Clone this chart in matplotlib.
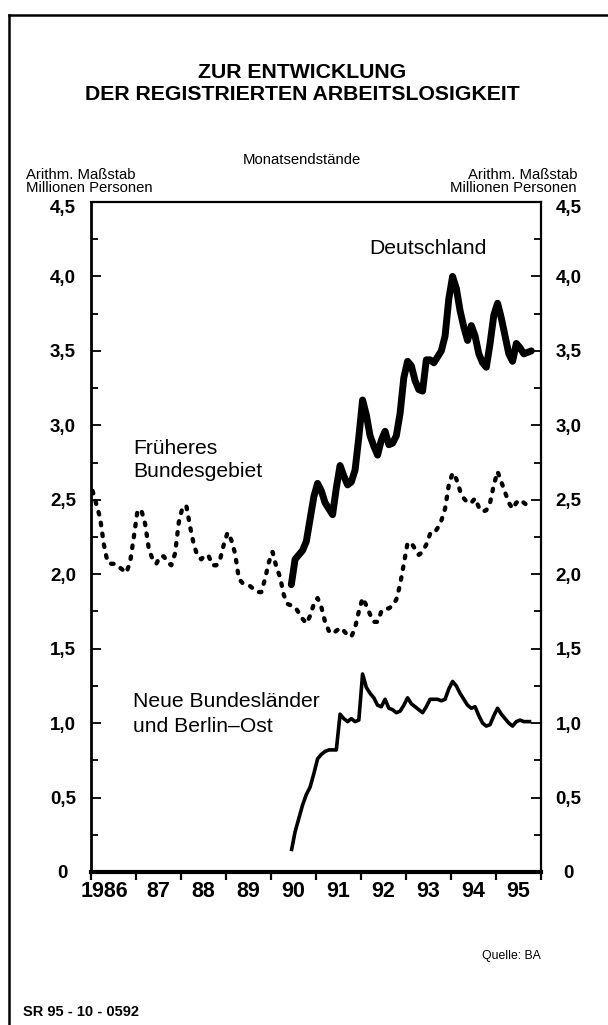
import numpy as np
import matplotlib
matplotlib.use('Agg')
import matplotlib.pyplot as plt
from matplotlib.lines import Line2D
from matplotlib.transforms import ScaledTranslation

plt.rcParams['font.family'] = ['Liberation Sans', 'DejaVu Sans']

# Arbeitslose, Monatsendstände in Mio. Personen
# Früheres Bundesgebiet, Jan 1986 - Okt 1995
west = [
    2.56, 2.47, 2.38, 2.20, 2.08, 2.07, 2.07, 2.05, 2.03, 2.01, 2.08, 2.25,
    2.43, 2.43, 2.34, 2.17, 2.10, 2.07, 2.12, 2.12, 2.08, 2.06, 2.14, 2.35,
    2.45, 2.46, 2.32, 2.20, 2.12, 2.10, 2.13, 2.12, 2.06, 2.06, 2.10, 2.20,
    2.28, 2.23, 2.14, 1.97, 1.94, 1.93, 1.92, 1.90, 1.88, 1.88, 1.97, 2.08,
    2.15, 2.05, 1.98, 1.86, 1.80, 1.79, 1.78, 1.74, 1.70, 1.67, 1.72, 1.80,
    1.84, 1.78, 1.68, 1.62, 1.60, 1.62, 1.64, 1.62, 1.59, 1.58, 1.64, 1.75,
    1.84, 1.79, 1.73, 1.68, 1.68, 1.75, 1.77, 1.77, 1.79, 1.83, 1.93, 2.07,
    2.21, 2.21, 2.17, 2.13, 2.15, 2.20, 2.27, 2.27, 2.31, 2.36, 2.44, 2.60,
    2.68, 2.64, 2.56, 2.51, 2.48, 2.48, 2.51, 2.45, 2.42, 2.43, 2.48, 2.60,
    2.69, 2.62, 2.55, 2.48, 2.44, 2.48, 2.50, 2.48, 2.46, 2.46,
]
# Deutschland, Jun 1990 - Okt 1995
gesamt = [
    1.93, 2.10, 2.13, 2.16, 2.22, 2.37, 2.52,
    2.61, 2.56, 2.48, 2.44, 2.40, 2.58, 2.73, 2.66, 2.60, 2.62, 2.70, 2.92,
    3.17, 3.07, 2.93, 2.86, 2.80, 2.90, 2.96, 2.87, 2.88, 2.93, 3.08, 3.32,
    3.43, 3.40, 3.30, 3.24, 3.23, 3.44, 3.44, 3.42, 3.46, 3.50, 3.60, 3.85,
    4.00, 3.92, 3.77, 3.66, 3.57, 3.67, 3.60, 3.48, 3.42, 3.39, 3.55, 3.74,
    3.82, 3.72, 3.60, 3.48, 3.43, 3.55, 3.52, 3.48, 3.49, 3.50,
]
# Neue Bundesländer und Berlin-Ost, Jun 1990 - Okt 1995
ost = [
    0.14, 0.27, 0.36, 0.45, 0.52, 0.57, 0.66,
    0.76, 0.79, 0.81, 0.82, 0.82, 0.82, 1.06, 1.03, 1.01, 1.03, 1.01, 1.02,
    1.33, 1.24, 1.20, 1.17, 1.12, 1.11, 1.16, 1.10, 1.09, 1.07, 1.08, 1.12,
    1.17, 1.13, 1.11, 1.09, 1.07, 1.11, 1.16, 1.16, 1.16, 1.15, 1.16, 1.23,
    1.28, 1.25, 1.20, 1.16, 1.12, 1.10, 1.11, 1.05, 1.00, 0.98, 0.99, 1.05,
    1.10, 1.06, 1.03, 1.00, 0.98, 1.01, 1.02, 1.01, 1.01, 1.01,
]

years = list(range(1986, 1997))
year_labels = ['1986', '87', '88', '89', '90', '91', '92', '93', '94', '95']
y_ticks = [0, 0.5, 1.0, 1.5, 2.0, 2.5, 3.0, 3.5, 4.0, 4.5]
y_labels = ['0', '0,5', '1,0', '1,5', '2,0', '2,5', '3,0', '3,5', '4,0', '4,5']

# Monatsmitten als x-Werte
x_west = 1986 + (np.arange(len(west)) + 0.5) / 12
x_ost = 1990 + (5 + np.arange(len(ost)) + 0.5) / 12

W, H = 608, 1025
fig = plt.figure(figsize=(W / 100, H / 100), dpi=100)
fig.patch.set_facecolor('white')


def fx(px):
    return px / W


def fy(py):
    return 1 - py / H


ax = fig.add_axes([fx(90.7), fy(872), fx(540.7) - fx(90.7), fy(202) - fy(872)])

ax.plot(x_west, west, color='black', lw=3.1, linestyle=(0, (0.6, 1.95)),
        dash_capstyle='round')
ax.plot(x_ost, gesamt, color='black', lw=5.0, solid_joinstyle='round',
        solid_capstyle='round')
ax.plot(x_ost, ost, color='black', lw=2.6, solid_joinstyle='round',
        solid_capstyle='butt')

ax.set_xlim(1986, 1996)
ax.set_ylim(0, 4.5)

# Jahresgrenzen als Striche, Beschriftung in Jahresmitte
ax.set_xticks(years)
ax.set_xticklabels([])
label_pos = [y + 0.5 for y in years[:-1]]
label_pos[0] -= 0.19
ax.set_xticks(label_pos, year_labels, minor=True)
ax.tick_params(axis='x', which='major', direction='out', length=6, width=1.6)
ax.tick_params(axis='x', which='minor', length=0, pad=6.5, labelsize=15.5)
for lbl in ax.get_xticklabels(minor=True):
    lbl.set_fontweight('bold')

ax.set_yticks(y_ticks, y_labels)
ax.set_yticks(np.arange(0.25, 4.5, 0.5), minor=True)
ax.tick_params(axis='y', which='both', direction='in', left=True, right=True,
               labelleft=True, labelright=True, width=1.3)
ax.tick_params(axis='y', which='major', length=7, labelsize=13.5, pad=20)
ax.tick_params(axis='y', which='minor', length=5)
for t in ax.yaxis.get_major_ticks():
    t.label1.set_fontweight('bold')
    t.label1.set_ha('center')
    t.label2.set_fontweight('bold')
    t.label2.set_ha('center')

# oberste Beschriftung sitzt etwas unter der Rahmenlinie
shift = ScaledTranslation(0, -0.05, fig.dpi_scale_trans)
top_tick = ax.yaxis.get_major_ticks()[-1]
top_tick.label1.set_transform(top_tick.label1.get_transform() + shift)
top_tick.label2.set_transform(top_tick.label2.get_transform() + shift)

ax.spines['left'].set_linewidth(2.0)
ax.spines['right'].set_linewidth(1.6)
ax.spines['top'].set_linewidth(1.6)
ax.spines['bottom'].set_linewidth(3.0)

# Texte
fig.text(fx(302), fy(78), 'ZUR ENTWICKLUNG', ha='center', va='baseline',
         fontsize=15.3, fontweight='bold')
fig.text(fx(302), fy(100), 'DER REGISTRIERTEN ARBEITSLOSIGKEIT', ha='center',
         va='baseline', fontsize=15.3, fontweight='bold')
fig.text(fx(302), fy(164), 'Monatsendstände', ha='center', va='baseline',
         fontsize=10.7)
fig.text(fx(26), fy(179), 'Arithm. Maßstab', ha='left', va='baseline',
         fontsize=10.7)
fig.text(fx(26), fy(192), 'Millionen Personen', ha='left', va='baseline',
         fontsize=10.7)
fig.text(fx(577), fy(179), 'Arithm. Maßstab', ha='right', va='baseline',
         fontsize=10.7)
fig.text(fx(577), fy(192), 'Millionen Personen', ha='right', va='baseline',
         fontsize=10.7)

fig.text(fx(369), fy(254), 'Deutschland', ha='left', va='baseline',
         fontsize=15.2)
fig.text(fx(133), fy(454), 'Früheres', ha='left', va='baseline', fontsize=15.2)
fig.text(fx(133), fy(477), 'Bundesgebiet', ha='left', va='baseline',
         fontsize=15.2)
fig.text(fx(133), fy(707), 'Neue Bundesländer', ha='left', va='baseline',
         fontsize=15.2)
fig.text(fx(133), fy(731.5), 'und Berlin–Ost', ha='left', va='baseline',
         fontsize=15.2)

fig.text(fx(541), fy(959), 'Quelle: BA', ha='right', va='baseline',
         fontsize=8.8)
fig.text(fx(23), fy(1016), 'SR 95 - 10 - 0592', ha='left', va='baseline',
         fontsize=10.5, fontweight='bold')

# Rahmen der Seite
fig.add_artist(Line2D([fx(9), fx(9)], [fy(15), fy(1025)], color='black', lw=1.8))
fig.add_artist(Line2D([fx(9), fx(608)], [fy(15), fy(15)], color='black', lw=1.8))

fig.savefig('out.png', dpi=100, facecolor='white')
